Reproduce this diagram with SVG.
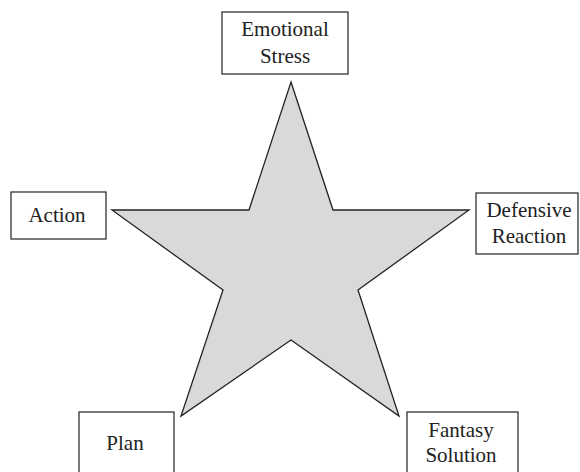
<svg xmlns="http://www.w3.org/2000/svg" width="580" height="472" viewBox="0 0 580 472">
<style>
.box{fill:#fff;stroke:#222;stroke-width:1.2}
text{font-family:'Liberation Serif','DejaVu Serif',serif;font-size:21px;fill:#222;text-anchor:middle}
</style>
<rect width="580" height="472" fill="#fff"/>
<g id="connectors">
<polygon points="291,82 333,210 469,210 358,290 399,416 291,340 181,416 223,290 112,210 249,210" fill="#d9d9dc" stroke="#222" stroke-width="1.3" stroke-linejoin="miter"/>
</g>
<g id="emotional-stress">
<rect class="box" x="222" y="12" width="126" height="62"/>
<text x="285" y="36">Emotional</text>
<text x="285" y="63">Stress</text>
</g>
<g id="action">
<rect class="box" x="11" y="192" width="95" height="47"/>
<text x="57" y="222">Action</text>
</g>
<g id="defensive-reaction">
<rect class="box" x="476" y="193" width="102" height="61"/>
<text x="529" y="217">Defensive</text>
<text x="529" y="243">Reaction</text>
</g>
<g id="plan">
<rect class="box" x="79" y="412" width="95" height="70"/>
<text x="125" y="450">Plan</text>
</g>
<g id="fantasy-solution">
<rect class="box" x="407" y="412" width="111" height="70"/>
<text x="461" y="437">Fantasy</text>
<text x="461" y="462">Solution</text>
</g>
</svg>
